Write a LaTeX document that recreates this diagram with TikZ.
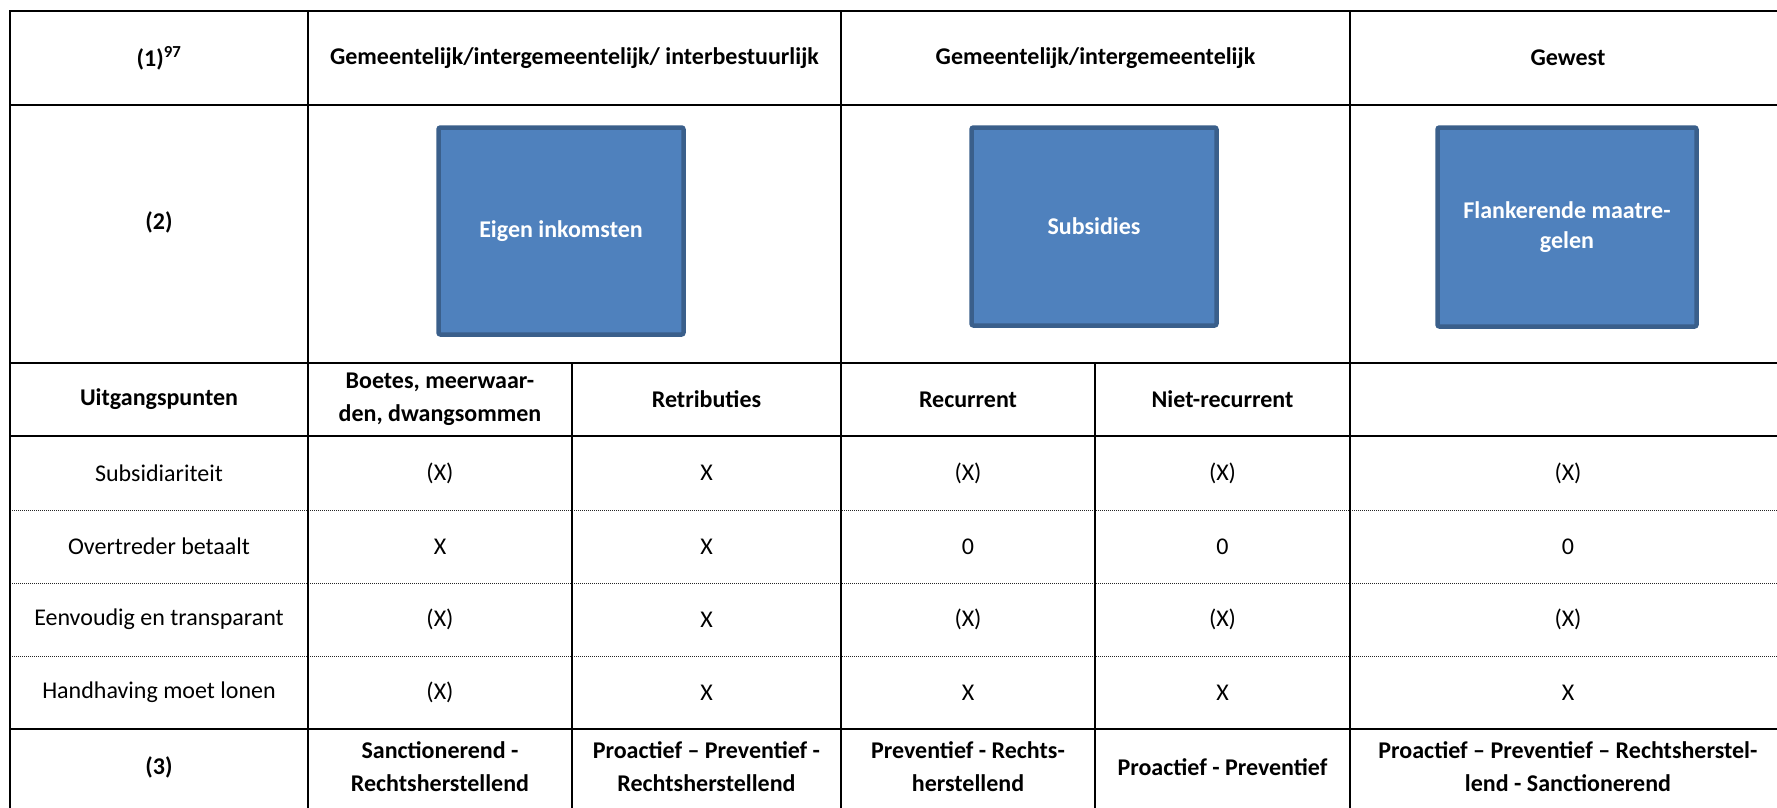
\documentclass[tikz,border=0pt]{standalone}
\usepackage{fontspec}
\setmainfont{Carlito}
\definecolor{boxblue}{HTML}{4F81BD}
\definecolor{boxedge}{HTML}{3A5F8B}
\tikzset{
  cell/.style={align=center, inner sep=0pt, font=\fontsize{24}{33}\selectfont},
  headcell/.style={cell, font=\fontsize{24}{33}\selectfont\bfseries},
  blok/.style={draw=boxedge, fill=boxblue, line width=4.5pt, rounded corners=2pt, text=white, align=center, inner sep=0pt, font=\fontsize{24}{30}\selectfont\bfseries},
  rule/.style={line width=2.6pt, line cap=rect},
  dotrule/.style={line width=1pt, dash pattern=on 1pt off 1pt, black!85}
}

\begin{document}
\begin{tikzpicture}[x=1pt,y=-1pt]
\useasboundingbox (0,0) rectangle (1777,807);
\foreach \y in {510,583,656} \draw[dotrule] (10,\y) -- (1786,\y);
\foreach \y in {11,105,363,436,729} \draw[rule] (10,\y) -- (1786,\y);
\foreach \x in {10,308,841,1350} \draw[rule] (\x,11) -- (\x,812);
\foreach \x in {572,1095} \draw[rule] (\x,363) -- (\x,812);

\node[headcell] (niveau) at (159,58) {(1)\textsuperscript{97}};
\node[headcell] (gem1) at (574.5,58) {Gemeentelijk/intergemeentelijk/ interbestuurlijk};
\node[headcell] (gem2) at (1095.5,58) {Gemeentelijk/intergemeentelijk};
\node[headcell] (gewest) at (1568,58) {Gewest};

\node[headcell] (instrument) at (159,222) {(2)};
\node[blok, minimum width=245pt, minimum height=207pt] (eigen) at (561,231) {Eigen inkomsten};
\node[blok, minimum width=245pt, minimum height=198pt] (subs) at (1094,226.5) {Subsidies};
\node[blok, minimum width=259pt, minimum height=199pt] (flank) at (1567,227) {Flankerende maatre-\\gelen};

\foreach \x/\txt [count=\i] in {159/Uitgangspunten, 440/{Boetes, meerwaar-\\den, dwangsommen}, 706.5/Retributies, 968/Recurrent, 1222.5/Niet-recurrent}
  \node[headcell] (kop\i) at (\x,399.5) {\txt};

\foreach \y/\lab/\a/\b/\c/\d/\e [count=\i] in {
  473/Subsidiariteit/(X)/X/(X)/(X)/(X),
  546.5/Overtreder betaalt/X/X/0/0/0,
  619.5/Eenvoudig en transparant/(X)/X/(X)/(X)/(X),
  692.5/Handhaving moet lonen/(X)/X/X/X/X} {
  \node[cell] (lab\i) at (159,\y) {\lab};
  \node[cell] (boete\i) at (440,\y) {\a};
  \node[cell] (retr\i) at (706.5,\y) {\b};
  \node[cell] (rec\i) at (968,\y) {\c};
  \node[cell] (nrec\i) at (1222.5,\y) {\d};
  \node[cell] (gew\i) at (1568,\y) {\e};
}

\foreach \x/\txt [count=\i] in {159/(3), 440/{Sanctionerend -\\Rechtsherstellend}, 706.5/{Proactief – Preventief -\\Rechtsherstellend}, 968/{Preventief - Rechts-\\herstellend}, 1222.5/Proactief - Preventief, 1568/{Proactief – Preventief – Rechtsherstel-\\lend - Sanctionerend}}
  \node[headcell] (aanpak\i) at (\x,767) {\txt};
\end{tikzpicture}
\end{document}
